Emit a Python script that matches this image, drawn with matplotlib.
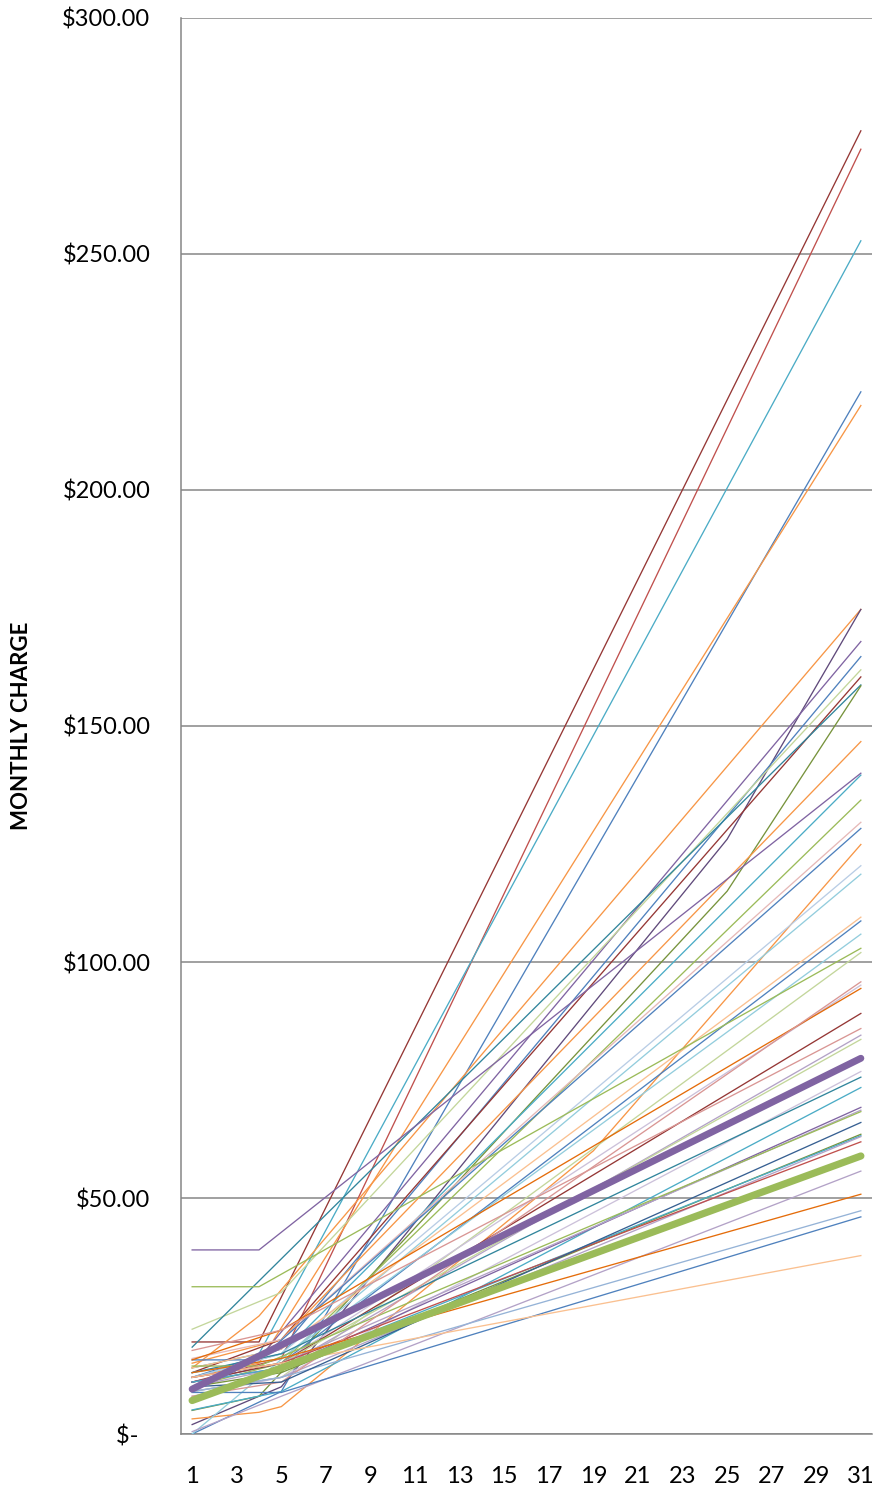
import matplotlib
matplotlib.use("Agg")
import matplotlib.pyplot as plt
from matplotlib.ticker import FuncFormatter

# day of the billing cycle
days = list(range(1, 32))
first_day = 1
last_day = 31

# customers: charge on day 1, on day 31 and at the bends between
start_values = [19.5, 11, 14, 0, 12, 14, 2, 10, 12, 22.2,
                13, 18.4, 5, 15, 12, 39, 10, 16, 15.7, 3.2,
                12, 0, 14, 11, 13, 31.2, 9, 0.5, 12, 15.7,
                11, 17.7, 10, 12, 8, 13, 5.1, 11, 12, 14.4,
                8.8, 10, 11, 9, 12, 8, 13, 9, 10, 12]
end_values = [276.1, 272.2, 252.8, 220.8, 217.9, 174.7, 174.7, 167.9, 164.7, 161.9,
              160.4, 158.7, 158.5, 146.7, 139.6, 140.0, 134.3, 129.6, 128.3, 124.9,
              120.4, 118.6, 109.5, 108.7, 105.9, 102.9, 102.0, 55.7, 95.1, 94.4,
              89.1, 85.9, 84.5, 83.6, 76.8, 75.6, 73.4, 69.2, 68.6, 68.3,
              46.0, 63.5, 63.2, 63.0, 61.9, 95.8, 50.8, 47.3, 66.0, 37.8]
bend_days = [[4], [5], [4], [5], [4], [4], [5, 25], [4], [5], [5],
             [5], [], [4, 25], [5], [5], [4], [5], [5], [4], [4, 5, 19],
             [5], [], [5], [5], [5], [4], [5], [5], [5], [5],
             [5], [5], [5], [5], [5], [5], [5], [5], [5], [4],
             [5], [5], [5], [5], [5], [5], [5], [5], [5], [5]]
bend_values = [[19.5], [16], [17], [9], [15], [25], [10, 126], [16], [18], [30],
               [20], [], [8, 115], [20], [17], [39], [15], [20], [15.7], [4.6, 5.8, 60],
               [17], [], [18], [15], [16], [31.2], [12], [8], [15], [22],
               [15], [22], [14], [15], [12], [17], [9], [14], [15], [14.4],
               [8.8], [13], [14], [12], [15], [11], [16], [12], [11], [15]]
line_colors = ["#953735", "#C0504D", "#4BACC6", "#4F81BD", "#F79646",
               "#F79646", "#604A7B", "#8064A2", "#4F81BD", "#C3D69B",
               "#953735", "#31859C", "#77933C", "#F79646", "#4BACC6",
               "#8064A2", "#9BBB59", "#E6B9B8", "#4F81BD", "#F79646",
               "#B9CDE5", "#93CDDD", "#FAC090", "#4F81BD", "#93CDDD",
               "#9BBB59", "#C3D69B", "#B3A2C7", "#CCC1DA", "#E46C0A",
               "#953735", "#D99694", "#B3A2C7", "#C3D69B", "#CCC1DA",
               "#31859C", "#4BACC6", "#8064A2", "#B3A2C7", "#9BBB59",
               "#4F81BD", "#77933C", "#4BACC6", "#B3A2C7", "#C0504D",
               "#D99694", "#E46C0A", "#95B3D7", "#376092", "#FAC090"]

# the two highlighted series
average_start, average_end = 9.5, 79.6
median_start, median_end = 7.1, 58.9

plt.rcParams["font.family"] = ["Lato", "DejaVu Sans"]

fig = plt.figure(figsize=(8.77, 14.89), dpi=100)
ax = fig.add_axes([181 / 877, 1 - 1434 / 1489, 691 / 877, 1416 / 1489])

for i in range(len(start_values)):
    xs = [first_day] + bend_days[i] + [last_day]
    ys = [start_values[i]] + bend_values[i] + [end_values[i]]
    ax.plot(xs, ys, color=line_colors[i], lw=0.95, zorder=3)

ax.plot([first_day, last_day], [average_start, average_end], color="#8064A2",
        lw=5, solid_capstyle="round", zorder=5)
ax.plot([first_day, last_day], [median_start, median_end], color="#9BBB59",
        lw=5.2, solid_capstyle="round", zorder=6)

ax.set_xlim(0.5, 31.5)
ax.set_ylim(0, 300)
ax.set_xticks(days[::2])
ax.set_yticks(range(0, 301, 50))
ax.yaxis.set_major_formatter(FuncFormatter(lambda v, p: "$-  " if v == 0 else "${:,.2f}".format(v)))
ax.tick_params(axis="both", length=0, labelsize=17, colors="#000000")
ax.tick_params(axis="x", pad=23)
ax.tick_params(axis="y", pad=22)

ax.grid(axis="y", color="#868686", lw=1.1, zorder=1)
ax.set_axisbelow(True)
for s in ["top", "right"]:
    ax.spines[s].set_visible(False)
for s in ["left", "bottom"]:
    ax.spines[s].set_color("#868686")
    ax.spines[s].set_linewidth(1.1)

fig.text(22 / 877, 1 - 726 / 1489, "MONTHLY CHARGE", rotation=90, fontsize=16,
         fontweight="bold", ha="center", va="center")

plt.savefig("out.png", dpi=100)
